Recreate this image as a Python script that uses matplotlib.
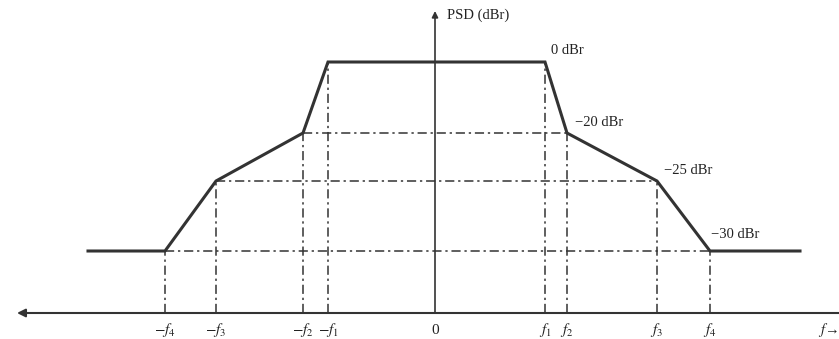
import matplotlib
matplotlib.use("Agg")
import matplotlib.pyplot as plt

plt.rcParams["font.family"] = ["Liberation Serif", "DejaVu Serif"]
plt.rcParams["mathtext.fontset"] = "stix"

# schematic spectrum mask (frequency positions and level heights are drawing units)
freq_names = ["-f4", "-f3", "-f2", "-f1", "0", "f1", "f2", "f3", "f4"]
freq_pos = [-270, -219, -132, -107, 0, 110, 132, 222, 275]
tick_labels = [r"$-f_4$", r"$-f_3$", r"$-f_2$", r"$-f_1$", "0",
               r"$f_1$", r"$f_2$", r"$f_3$", r"$f_4$"]

level_names = ["0 dBr", "\u221220 dBr", "\u221225 dBr", "\u221230 dBr"]
level_h = [251, 180, 132, 62]

# mask outline
mask_x = [-347, -270, -219, -132, -107, 110, 132, 222, 275, 365]
mask_y = [62, 62, 132, 180, 251, 251, 180, 132, 62, 62]

ink = "#333333"

fig = plt.figure(figsize=(8.39, 3.39), dpi=100)
ax = fig.add_axes([0, 0, 1, 1])
ax.set_xlim(-435, 404)
ax.set_ylim(-26, 313)
ax.axis("off")

dash = dict(color=ink, lw=1.1, ls=(0, (6, 2.5, 1.5, 2.5)))

# horizontal guide lines at -20, -25, -30 dBr
for i in range(1, 4):
    xl = freq_pos[3 - i]
    xr = freq_pos[5 + i]
    ax.plot([xl, xr], [level_h[i], level_h[i]], **dash)

# vertical guide lines from the mask corners down to the axis
corner_h = [62, 132, 180, 251, None, 251, 180, 132, 62]
for x, h in zip(freq_pos, corner_h):
    if h is None:
        continue
    ax.plot([x, x], [0, h], **dash)

ax.plot(mask_x, mask_y, color=ink, lw=2.2, solid_joinstyle="miter", zorder=3)

# frequency axis (arrow to the left) and PSD axis
ax.annotate("", xy=(-418, 0), xytext=(404, 0),
            arrowprops=dict(arrowstyle="-|>", color=ink, lw=1.5,
                            mutation_scale=12, shrinkA=0, shrinkB=0))
ax.annotate("", xy=(0, 302), xytext=(0, 0),
            arrowprops=dict(arrowstyle="-|>", color=ink, lw=1.2,
                            mutation_scale=9, shrinkA=0, shrinkB=0))

for x, lab in zip(freq_pos, tick_labels):
    ax.text(x, -17, lab, ha="center", va="center", fontsize=11, color="#222222")
ax.text(403, -17, "$f$\u2192", ha="right", va="center", fontsize=10.5, color="#222222")

ax.text(12, 298, "PSD (dBr)", ha="left", va="center", fontsize=10.5, color="#222222")
label_xy = [(116, 263), (140, 190), (229, 142), (276, 78)]
for (x, y), lab in zip(label_xy, level_names):
    ax.text(x, y, lab, ha="left", va="center", fontsize=10.5, color="#222222")

fig.savefig("out.png", dpi=100)
